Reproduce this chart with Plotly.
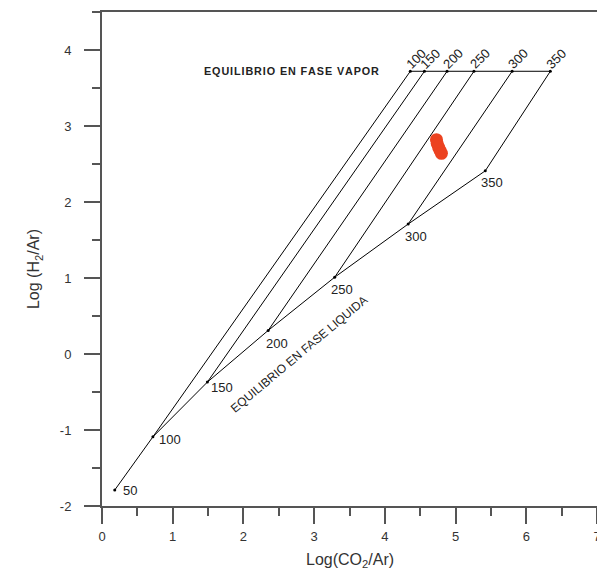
import plotly.graph_objects as go

# ---- data ----
temps = [50, 100, 150, 200, 250, 300, 350]
liq_x = [0.18, 0.72, 1.49, 2.35, 3.29, 4.33, 5.42]
liq_y = [-1.79, -1.09, -0.37, 0.31, 1.01, 1.71, 2.41]

vap_temps = [100, 150, 200, 250, 300, 350]
vap_x = [4.36, 4.56, 4.88, 5.26, 5.80, 6.34]
vap_y = [3.72, 3.72, 3.72, 3.72, 3.72, 3.72]

samp_x = [4.73, 4.74, 4.76, 4.78, 4.80]
samp_y = [2.82, 2.77, 2.72, 2.68, 2.64]

x_ticks = [0, 1, 2, 3, 4, 5, 6, 7]
y_ticks = [-2, -1, 0, 1, 2, 3, 4]

# label pixel offsets (style)
liq_off = [(15, 0), (17, -3), (15, -5), (9, -13), (7, -12), (8, -12), (7, -12)]
vap_off = (6, 13)

FONT = "Liberation Sans, Arial, sans-serif"
fig = go.Figure()

# isotherms: liquid point -> vapor point of same temperature
for t, vx, vy in zip(vap_temps, vap_x, vap_y):
    i = temps.index(t)
    fig.add_trace(go.Scatter(x=[liq_x[i], vx], y=[liq_y[i], vy], mode="lines",
                             line=dict(color="black", width=1), showlegend=False,
                             hoverinfo="skip"))

fig.add_trace(go.Scatter(x=liq_x, y=liq_y, mode="lines+markers",
                         line=dict(color="black", width=1),
                         marker=dict(color="black", size=3), showlegend=False))
fig.add_trace(go.Scatter(x=vap_x, y=vap_y, mode="lines+markers",
                         line=dict(color="black", width=1),
                         marker=dict(color="black", size=3), showlegend=False))

fig.add_trace(go.Scatter(x=samp_x, y=samp_y, mode="markers",
                         marker=dict(color="#ec4220", size=13, line=dict(width=0)),
                         showlegend=False))

for t, x, y, (dx, dy) in zip(temps, liq_x, liq_y, liq_off):
    fig.add_annotation(x=x, y=y, text=str(t), showarrow=False, xshift=dx, yshift=dy,
                       xanchor="center", yanchor="middle",
                       font=dict(family=FONT, size=13, color="#222"))

for t, x, y in zip(vap_temps, vap_x, vap_y):
    fig.add_annotation(x=x, y=y, text=str(t), showarrow=False, xshift=vap_off[0],
                       yshift=vap_off[1], textangle=-45,
                       xanchor="center", yanchor="middle",
                       font=dict(family=FONT, size=13, color="#222"))

vap_title = "\u200a".join("EQUILIBRIO EN FASE VAPOR")
fig.add_annotation(x=2.68, y=3.72, text="<b>" + vap_title + "</b>", showarrow=False,
                   xanchor="center", yanchor="middle",
                   font=dict(family=FONT, size=10.8, color="#222"))
fig.add_annotation(x=2.79, y=0.0, text="EQUILIBRIO EN FASE LIQUIDA", showarrow=False,
                   textangle=-40, xanchor="center", yanchor="middle",
                   font=dict(family=FONT, size=12, color="#222"))

# axis titles
fig.add_annotation(xref="paper", yref="paper", x=0.5, y=-0.087,
                   text="Log(CO<sub>2</sub>/Ar)", showarrow=False,
                   xanchor="center", yanchor="top",
                   font=dict(family=FONT, size=16, color="#333"))
fig.add_annotation(xref="paper", yref="paper", x=-0.135, y=0.48,
                   text="Log (H<sub>2</sub>/Ar)", showarrow=False, textangle=-90,
                   xanchor="center", yanchor="middle",
                   font=dict(family=FONT, size=16, color="#333"))

axis_common = dict(showgrid=False, zeroline=False, showline=True, linecolor="#555",
                   linewidth=2, mirror=True, ticks="outside", ticklen=16, tickwidth=2,
                   tickcolor="#555", automargin=False,
                   tickfont=dict(family=FONT, size=13, color="#333"))

fig.update_xaxes(range=[0, 7], tickvals=x_ticks, ticktext=[str(v) for v in x_ticks],
                 ticklabelstandoff=1,
                 minor=dict(ticks="outside", ticklen=8, tickwidth=2, tickcolor="#555",
                            dtick=0.5, showgrid=False),
                 **axis_common)
fig.update_yaxes(range=[-2, 4.5], tickvals=y_ticks, ticktext=[str(v) for v in y_ticks],
                 ticklabelstandoff=10,
                 minor=dict(ticks="outside", ticklen=8, tickwidth=2, tickcolor="#555",
                            dtick=0.5, showgrid=False),
                 **axis_common)

# page body has an 8px margin, so the figure is sized/offset to compensate
fig.update_layout(width=597, height=573, margin=dict(l=94, r=8, t=4, b=75),
                  plot_bgcolor="white", paper_bgcolor="white")

fig.write_html("out.html")
